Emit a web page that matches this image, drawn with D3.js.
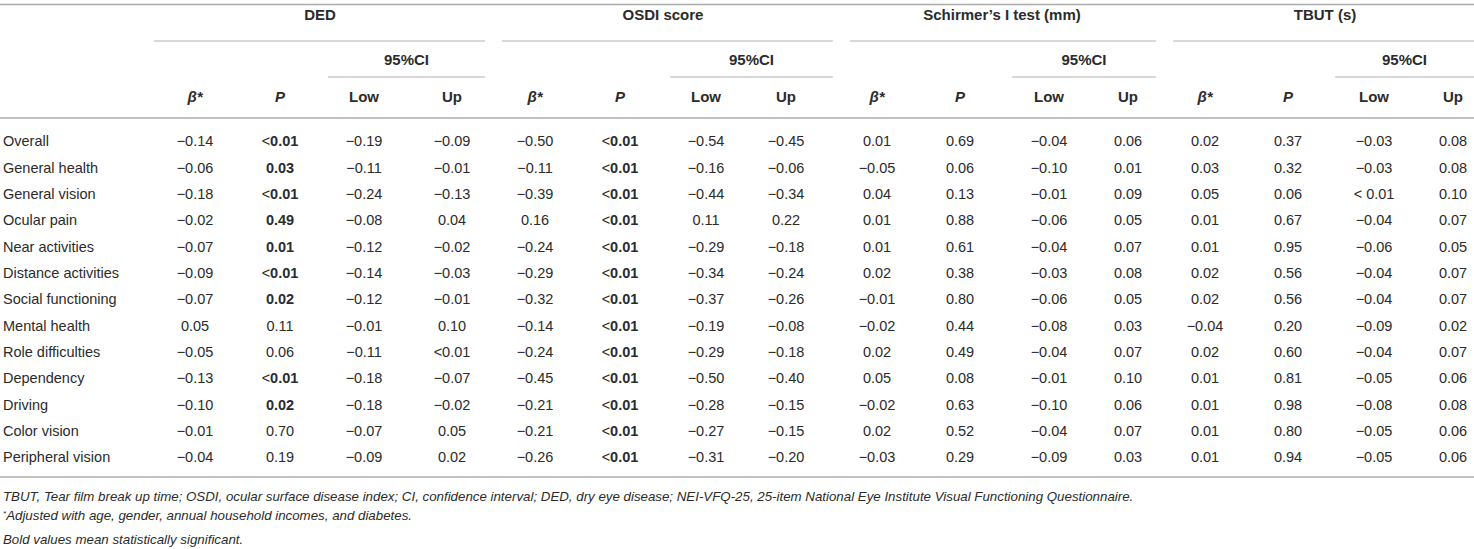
<!DOCTYPE html>
<html>
<head>
<meta charset="utf-8">
<script src="https://cdn.jsdelivr.net/npm/d3@7/dist/d3.min.js"></script>
<style>
  html, body { margin: 0; padding: 0; background: #fff; }
  svg { display: block; }
  text { font-family: "Liberation Sans", Arial, Helvetica, sans-serif; fill: #2b2b2b; }
</style>
</head>
<body>
<svg id="chart" width="1474" height="549"></svg>
<script>
// ---------------- DATA ----------------
const rowLabels = ["Overall", "General health", "General vision", "Ocular pain", "Near activities",
  "Distance activities", "Social functioning", "Mental health", "Role difficulties", "Dependency",
  "Driving", "Color vision", "Peripheral vision"];

const outcomes = ["DED", "OSDI score", "Schirmer\u2019s I test (mm)", "TBUT (s)"];
const subHeaders = ["\u03B2*", "P", "Low", "Up"];
const ciLabel = "95%CI";

// [beta, P, Low, Up] per row
const dedValues = [
  ["\u22120.14", "<0.01", "\u22120.19", "\u22120.09"],
  ["\u22120.06", "0.03", "\u22120.11", "\u22120.01"],
  ["\u22120.18", "<0.01", "\u22120.24", "\u22120.13"],
  ["\u22120.02", "0.49", "\u22120.08", "0.04"],
  ["\u22120.07", "0.01", "\u22120.12", "\u22120.02"],
  ["\u22120.09", "<0.01", "\u22120.14", "\u22120.03"],
  ["\u22120.07", "0.02", "\u22120.12", "\u22120.01"],
  ["0.05", "0.11", "\u22120.01", "0.10"],
  ["\u22120.05", "0.06", "\u22120.11", "<0.01"],
  ["\u22120.13", "<0.01", "\u22120.18", "\u22120.07"],
  ["\u22120.10", "0.02", "\u22120.18", "\u22120.02"],
  ["\u22120.01", "0.70", "\u22120.07", "0.05"],
  ["\u22120.04", "0.19", "\u22120.09", "0.02"]
];
const osdiValues = [
  ["\u22120.50", "<0.01", "\u22120.54", "\u22120.45"],
  ["\u22120.11", "<0.01", "\u22120.16", "\u22120.06"],
  ["\u22120.39", "<0.01", "\u22120.44", "\u22120.34"],
  ["0.16", "<0.01", "0.11", "0.22"],
  ["\u22120.24", "<0.01", "\u22120.29", "\u22120.18"],
  ["\u22120.29", "<0.01", "\u22120.34", "\u22120.24"],
  ["\u22120.32", "<0.01", "\u22120.37", "\u22120.26"],
  ["\u22120.14", "<0.01", "\u22120.19", "\u22120.08"],
  ["\u22120.24", "<0.01", "\u22120.29", "\u22120.18"],
  ["\u22120.45", "<0.01", "\u22120.50", "\u22120.40"],
  ["\u22120.21", "<0.01", "\u22120.28", "\u22120.15"],
  ["\u22120.21", "<0.01", "\u22120.27", "\u22120.15"],
  ["\u22120.26", "<0.01", "\u22120.31", "\u22120.20"]
];
const schirmerValues = [
  ["0.01", "0.69", "\u22120.04", "0.06"],
  ["\u22120.05", "0.06", "\u22120.10", "0.01"],
  ["0.04", "0.13", "\u22120.01", "0.09"],
  ["0.01", "0.88", "\u22120.06", "0.05"],
  ["0.01", "0.61", "\u22120.04", "0.07"],
  ["0.02", "0.38", "\u22120.03", "0.08"],
  ["\u22120.01", "0.80", "\u22120.06", "0.05"],
  ["\u22120.02", "0.44", "\u22120.08", "0.03"],
  ["0.02", "0.49", "\u22120.04", "0.07"],
  ["0.05", "0.08", "\u22120.01", "0.10"],
  ["\u22120.02", "0.63", "\u22120.10", "0.06"],
  ["0.02", "0.52", "\u22120.04", "0.07"],
  ["\u22120.03", "0.29", "\u22120.09", "0.03"]
];
const tbutValues = [
  ["0.02", "0.37", "\u22120.03", "0.08"],
  ["0.03", "0.32", "\u22120.03", "0.08"],
  ["0.05", "0.06", "< 0.01", "0.10"],
  ["0.01", "0.67", "\u22120.04", "0.07"],
  ["0.01", "0.95", "\u22120.06", "0.05"],
  ["0.02", "0.56", "\u22120.04", "0.07"],
  ["0.02", "0.56", "\u22120.04", "0.07"],
  ["\u22120.04", "0.20", "\u22120.09", "0.02"],
  ["0.02", "0.60", "\u22120.04", "0.07"],
  ["0.01", "0.81", "\u22120.05", "0.06"],
  ["0.01", "0.98", "\u22120.08", "0.08"],
  ["0.01", "0.80", "\u22120.05", "0.06"],
  ["0.01", "0.94", "\u22120.05", "0.06"]
];
// statistically significant P values (bold)
const dedSig = [1, 1, 1, 1, 1, 1, 1, 0, 0, 1, 1, 0, 0];
const osdiSig = [1, 1, 1, 1, 1, 1, 1, 1, 1, 1, 1, 1, 1];
const schirmerSig = [0, 0, 0, 0, 0, 0, 0, 0, 0, 0, 0, 0, 0];
const tbutSig = [0, 0, 0, 0, 0, 0, 0, 0, 0, 0, 0, 0, 0];

const footnotes = [
  "TBUT, Tear film break up time; OSDI, ocular surface disease index; CI, confidence interval; DED, dry eye disease; NEI-VFQ-25, 25-item National Eye Institute Visual Functioning Questionnaire.",
  "Adjusted with age, gender, annual household incomes, and diabetes.",
  "Bold values mean statistically significant."
];

// ---------------- LAYOUT ----------------
const W = 1474, H = 549;
const svg = d3.select("#chart");
const FS = 14.5;
const HFS = 15;
const lineColor = "#ababab";

const groups = [
  { name: outcomes[0], values: dedValues, sig: dedSig },
  { name: outcomes[1], values: osdiValues, sig: osdiSig },
  { name: outcomes[2], values: schirmerValues, sig: schirmerSig },
  { name: outcomes[3], values: tbutValues, sig: tbutSig }
];

const colKeys = [];
groups.forEach((g, gi) => subHeaders.forEach((s, si) => colKeys.push(gi + "-" + si)));
const colCenters = [195, 280, 364, 452, 535, 620, 706, 786, 877, 960, 1049, 1128, 1205, 1288, 1374, 1453];
const x = d3.scaleOrdinal().domain(colKeys).range(colCenters);

const groupSpan = d3.scaleOrdinal().domain(outcomes).range([[154, 485], [502, 833], [850, 1156], [1173, 1474]]);
const ciSpan = d3.scaleOrdinal().domain(outcomes).range([[328, 485], [670, 833], [1012, 1156], [1335, 1474]]);
const groupCenter = d3.scaleOrdinal().domain(outcomes).range([320, 663, 1002, 1325]);

const y = d3.scaleBand().domain(rowLabels).range([128, 128 + 26.35 * rowLabels.length]).paddingInner(0);

// ---------------- RULES ----------------
function hline(x1, x2, yy, w, c) {
  svg.append("line").attr("x1", x1).attr("x2", x2).attr("y1", yy).attr("y2", yy)
    .attr("stroke", c || lineColor).attr("stroke-width", w);
}
hline(0, W, 4.5, 1.6);
hline(0, W, 118, 1.6);
const bodyBottom = 477;
hline(0, W, bodyBottom, 1.6);

// ---------------- HEADERS ----------------
groups.forEach((g, gi) => {
  const gs = groupSpan(g.name);
  svg.append("text").attr("x", groupCenter(g.name)).attr("y", 15).attr("dy", "0.35em")
    .attr("text-anchor", "middle").attr("font-size", HFS).attr("font-weight", "bold").text(g.name);
  hline(gs[0], gs[1], 41, 1.1, "#b3b3b3");
  const cs = ciSpan(g.name);
  svg.append("text").attr("x", (cs[0] + cs[1]) / 2).attr("y", 60).attr("dy", "0.35em")
    .attr("text-anchor", "middle").attr("font-size", HFS).attr("font-weight", "bold").text(ciLabel);
  hline(cs[0], cs[1], 77, 1.1, "#b3b3b3");
  subHeaders.forEach((s, si) => {
    const t = svg.append("text").attr("x", x(gi + "-" + si)).attr("y", 97).attr("dy", "0.35em")
      .attr("text-anchor", "middle").attr("font-size", HFS).attr("font-weight", "bold").text(s);
    if (si < 2) t.attr("font-style", "italic");
  });
});

// ---------------- BODY ----------------
const rowsG = svg.append("g");
rowLabels.forEach((lab, ri) => {
  const cy = y(lab) + y.bandwidth() / 2;
  rowsG.append("text").attr("x", 3).attr("y", cy).attr("dy", "0.35em")
    .attr("font-size", FS).text(lab);
  groups.forEach((g, gi) => {
    g.values[ri].forEach((v, si) => {
      const t = rowsG.append("text").attr("x", x(gi + "-" + si)).attr("y", cy).attr("dy", "0.35em")
        .attr("text-anchor", "middle").attr("font-size", FS);
      const bold = si === 1 && g.sig[ri] === 1;
      if (bold) {
        if (v.startsWith("<")) {
          t.append("tspan").text("<");
          t.append("tspan").attr("font-weight", "bold").text(v.slice(1));
        } else {
          t.attr("font-weight", "bold").text(v);
        }
      } else {
        t.text(v);
      }
    });
  });
});

// ---------------- FOOTNOTES ----------------
const fnY = [496, 518, 539];
const fnFS = 13.3;
svg.append("text").attr("x", 3).attr("y", fnY[0]).attr("dy", "0.35em")
  .attr("font-size", fnFS).attr("font-style", "italic").text(footnotes[0]);
const f2 = svg.append("text").attr("x", 3).attr("y", fnY[1]).attr("dy", "0.35em")
  .attr("font-size", fnFS).attr("font-style", "italic");
f2.append("tspan").attr("font-size", 8).attr("dy", "-0.2em").text("*");
f2.append("tspan").attr("dy", "0.25em").text(footnotes[1]);
svg.append("text").attr("x", 3).attr("y", fnY[2]).attr("dy", "0.35em")
  .attr("font-size", fnFS).attr("font-style", "italic").text(footnotes[2]);
</script>
</body>
</html>
